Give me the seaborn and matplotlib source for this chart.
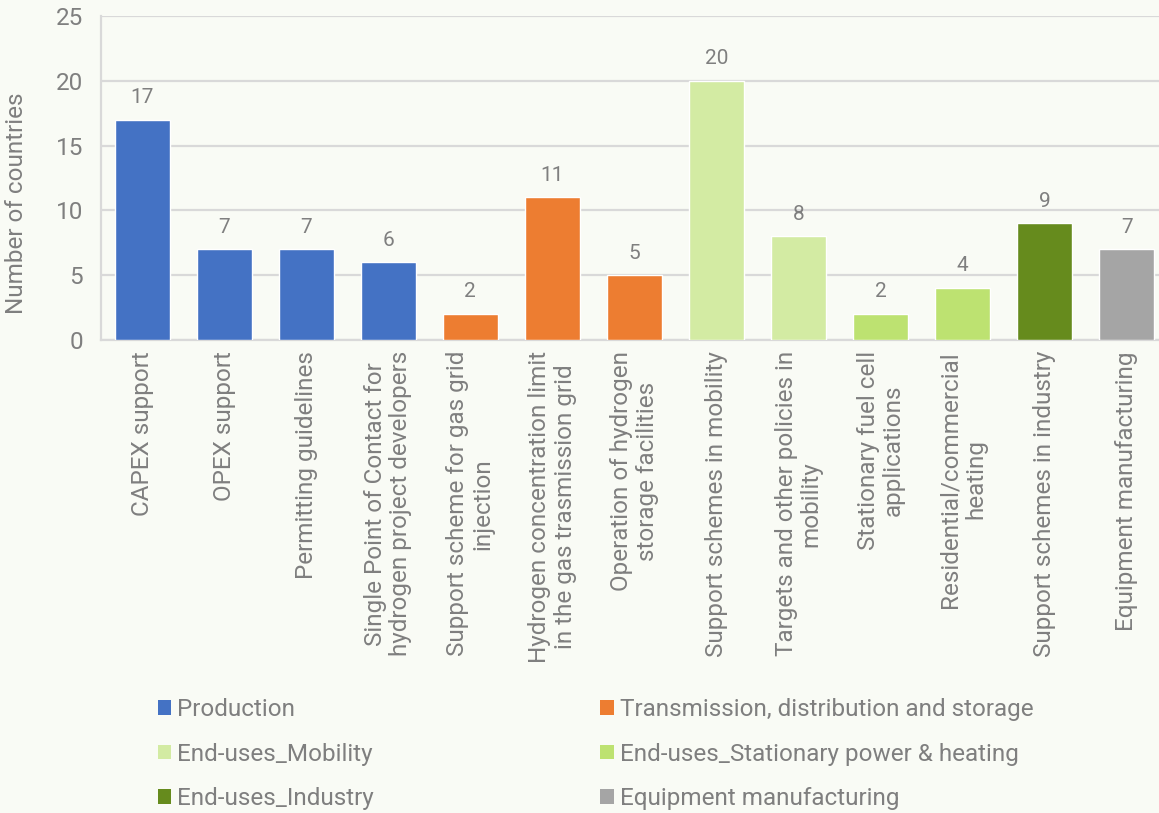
import matplotlib
matplotlib.use("Agg")
import matplotlib.pyplot as plt
import seaborn as sns
import pandas as pd
from matplotlib.patches import Patch

# Policy measures and the number of countries that have each of them
measures = [
    "CAPEX support",
    "OPEX support",
    "Permitting guidelines",
    "Single Point of Contact for\nhydrogen project developers",
    "Support scheme for gas grid\ninjection",
    "Hydrogen concentration limit\nin the gas trasmission grid",
    "Operation of hydrogen\nstorage facilities",
    "Support schemes in mobility",
    "Targets and other policies in\nmobility",
    "Stationary fuel cell\napplications",
    "Residential/commercial\nheating",
    "Support schemes in industry",
    "Equipment manufacturing",
]
countries = [17, 7, 7, 6, 2, 11, 5, 20, 8, 2, 4, 9, 7]
groups = [
    "Production", "Production", "Production", "Production",
    "Transmission, distribution and storage",
    "Transmission, distribution and storage",
    "Transmission, distribution and storage",
    "End-uses_Mobility", "End-uses_Mobility",
    "End-uses_Stationary power & heating",
    "End-uses_Stationary power & heating",
    "End-uses_Industry",
    "Equipment manufacturing",
]
group_colors = {
    "Production": "#4472C4",
    "Transmission, distribution and storage": "#ED7D31",
    "End-uses_Mobility": "#D3EBA3",
    "End-uses_Stationary power & heating": "#BDE271",
    "End-uses_Industry": "#668B1D",
    "Equipment manufacturing": "#A5A5A5",
}
y_ticks = [0, 5, 10, 15, 20, 25]

df = pd.DataFrame({"measure": measures, "countries": countries, "group": groups})

sns.set_theme(style="white")
plt.rcParams["font.family"] = ["Roboto", "DejaVu Sans"]

text_color = "#7F7F7F"
grid_color = "#D9D9D9"
bg = "#F9FBF5"
fs = 17.5

W, H = 1159, 813
fig = plt.figure(figsize=(W / 100, H / 100), dpi=100, facecolor=bg)
ax_left, ax_right, ax_top, ax_bottom = 101, 1168, 16, 340
ax = fig.add_axes([ax_left / W, 1 - ax_bottom / H, (ax_right - ax_left) / W, (ax_bottom - ax_top) / H])
ax.set_facecolor(bg)

sns.barplot(data=df, x="measure", y="countries", hue="group", palette=group_colors,
            dodge=False, width=0.67, legend=False, ax=ax, saturation=1, zorder=3)

ax.set_xlim(-0.5, len(measures) - 0.5)
ax.set_ylim(0, 25)
ax.set_yticks(y_ticks)
ax.yaxis.grid(True, color=grid_color, linewidth=1.6, zorder=0)
ax.set_axisbelow(True)
ax.tick_params(axis="y", length=0, pad=13, labelsize=fs, labelcolor=text_color)
ax.tick_params(axis="x", length=0, pad=8, labelsize=fs, labelcolor=text_color)
ax.set_xticks(range(len(measures)))
ax.set_xticklabels(measures, rotation=90, ha="center", va="top", multialignment="center",
                   linespacing=1.12)
ax.set_xlabel("")
ax.set_ylabel("")
for side in ["top", "right"]:
    ax.spines[side].set_visible(False)
for side in ["left", "bottom"]:
    ax.spines[side].set_color(grid_color)
    ax.spines[side].set_linewidth(1.6)

# Value labels above the bars
for i, v in enumerate(countries):
    ax.annotate(str(v), (i, v), xytext=(0, 12), textcoords="offset points",
                ha="center", va="baseline", fontsize=15, color=text_color)

fig.text(17 / W, 1 - 203 / H, "Number of countries", rotation=90, ha="center", va="center",
         fontsize=fs, color=text_color)

# Legend: two columns, filled row by row
order = [
    "Production", "End-uses_Mobility", "End-uses_Industry",
    "Transmission, distribution and storage", "End-uses_Stationary power & heating",
    "Equipment manufacturing",
]
handles = [Patch(facecolor=group_colors[g], edgecolor="none", label=g) for g in order]
leg = fig.legend(handles=handles, ncol=2, loc="upper left",
                 bbox_to_anchor=(158 / W, 1 - 698 / H), frameon=False,
                 fontsize=fs, labelcolor=text_color, handlelength=0.55, handleheight=0.55,
                 handletextpad=0.25, labelspacing=0.89, columnspacing=9.3, borderpad=0,
                 borderaxespad=0)

fig.savefig("out.png", dpi=100, facecolor=bg)
